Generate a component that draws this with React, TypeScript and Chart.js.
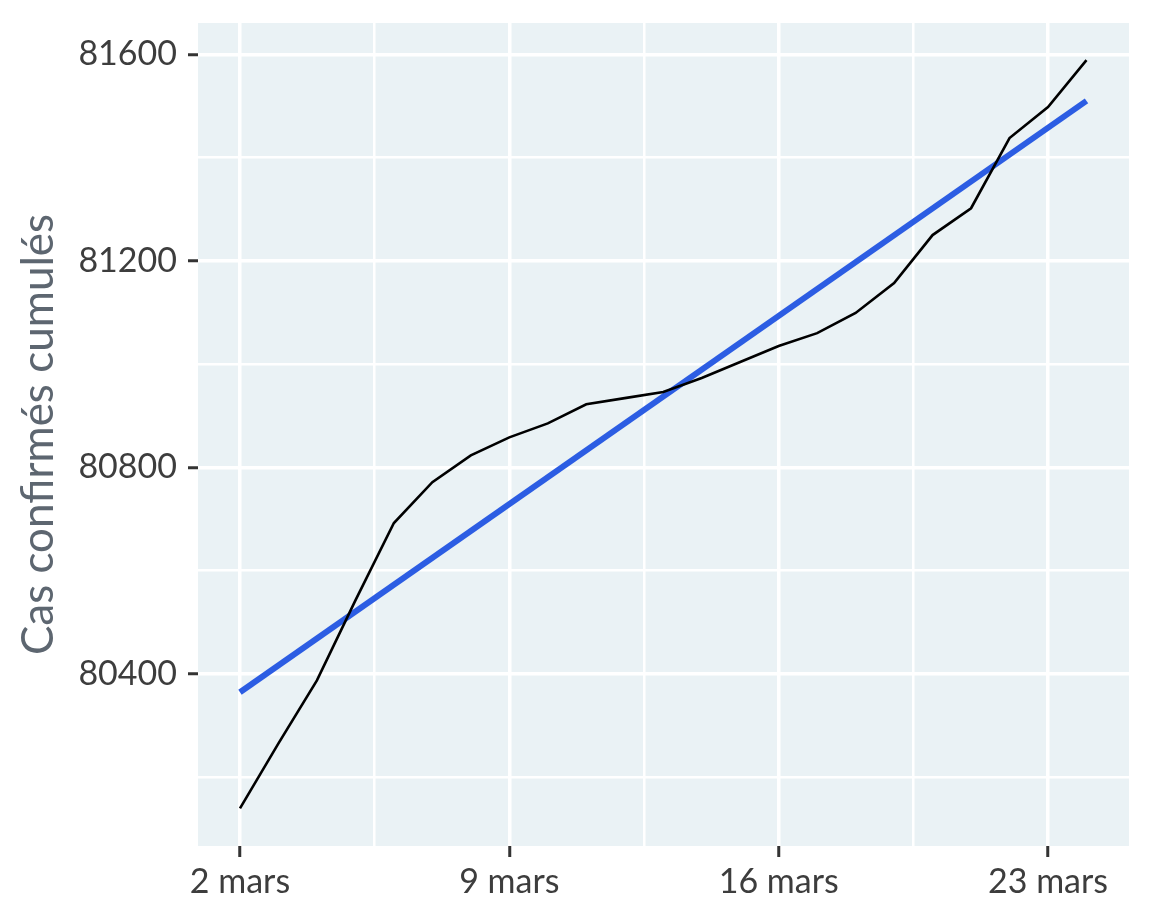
import { useEffect, useRef } from "react";
import { Chart, ChartOptions, Plugin, registerables } from "chart.js";

Chart.register(...registerables);

// Jours de mars (2 -> 24) et cas confirmés cumulés
const days = [2, 3, 4, 5, 6, 7, 8, 9, 10, 11, 12, 13, 14, 15, 16, 17, 18, 19, 20, 21, 22, 23, 24];
const cumulativeCases = [
  80139, 80265, 80387, 80542, 80692, 80771, 80823, 80858, 80885, 80922, 80934, 80946,
  80973, 81004, 81035, 81060, 81099, 81157, 81250, 81302, 81438, 81498, 81589,
];

// Droite de tendance (régression linéaire)
const trendDays = [2, 24];
const trendCases = [80364, 81510];

// Graduations
const xGridDays = [2, 5.5, 9, 12.5, 16, 19.5, 23];
const xLabelDays = [2, 9, 16, 23];
const yGridValues = [80200, 80400, 80600, 80800, 81000, 81200, 81400, 81600];
const yLabelValues = [80400, 80800, 81200, 81600];

const panelBackground: Plugin = {
  id: "panelBackground",
  beforeDraw(chart) {
    const { ctx, chartArea } = chart;
    ctx.save();
    ctx.fillStyle = "#EAF2F5";
    ctx.fillRect(chartArea.left, chartArea.top, chartArea.width, chartArea.height);
    ctx.restore();
  },
};

export default function App() {
  const chartRef = useRef<HTMLCanvasElement>(null);
  const chartInstance = useRef<Chart | null>(null);

  useEffect(() => {
    document.body.style.margin = "0";
    if (!chartRef.current) return;
    if (chartInstance.current) chartInstance.current.destroy();
    const ctx = chartRef.current.getContext("2d");
    if (!ctx) return;

    const options: ChartOptions<"line"> = {
      responsive: true,
      maintainAspectRatio: false,
      animation: false,
      layout: { padding: { top: 23, right: 23, bottom: 0, left: 8 } },
      plugins: {
        legend: { display: false },
        tooltip: { enabled: false },
      },
      scales: {
        x: {
          type: "linear",
          min: 0.909,
          max: 25.105,
          afterBuildTicks: (scale) => {
            scale.ticks = xGridDays.map((v) => ({ value: v }));
          },
          afterFit: (scale) => {
            scale.height = 76;
            scale.paddingLeft = 0;
            scale.paddingRight = 0;
          },
          border: { display: false },
          grid: {
            color: "#ffffff",
            lineWidth: (c) => (xLabelDays.includes(c.tick?.value) ? 3.5 : 2.5),
            tickColor: (c) => (xLabelDays.includes(c.tick?.value) ? "#333333" : "rgba(0,0,0,0)"),
            tickWidth: 3,
            tickLength: 11,
          },
          ticks: {
            autoSkip: false,
            maxRotation: 0,
            padding: 5,
            color: "#3d3d3d",
            font: { family: "Lato", size: 34 },
            callback: (value) => (xLabelDays.includes(Number(value)) ? `${value} mars` : ""),
          },
        },
        y: {
          type: "linear",
          min: 80066,
          max: 81661,
          afterBuildTicks: (scale) => {
            scale.ticks = yGridValues.map((v) => ({ value: v }));
          },
          afterFit: (scale) => {
            scale.width = 190;
            scale.paddingTop = 0;
            scale.paddingBottom = 0;
          },
          border: { display: false },
          grid: {
            color: "#ffffff",
            lineWidth: (c) => (yLabelValues.includes(c.tick?.value) ? 3.5 : 2.5),
            tickColor: (c) => (yLabelValues.includes(c.tick?.value) ? "#333333" : "rgba(0,0,0,0)"),
            tickWidth: 3,
            tickLength: 10,
          },
          ticks: {
            autoSkip: false,
            padding: 11,
            color: "#3d3d3d",
            font: { family: "Lato", size: 34 },
            callback: (value) => (yLabelValues.includes(Number(value)) ? String(value) : ""),
          },
          title: {
            display: true,
            text: "Cas confirmés cumulés",
            color: "#5d6670",
            font: { family: "Lato", size: 44 },
            padding: { top: 4, bottom: 4 },
          },
        },
      },
    };

    chartInstance.current = new Chart(ctx, {
      type: "line",
      data: {
        datasets: [
          {
            label: "Cas confirmés cumulés",
            data: days.map((d, i) => ({ x: d, y: cumulativeCases[i] })),
            borderColor: "#000000",
            borderWidth: 2.6,
            pointRadius: 0,
            tension: 0,
            fill: false,
          },
          {
            label: "Tendance linéaire",
            data: trendDays.map((d, i) => ({ x: d, y: trendCases[i] })),
            borderColor: "#2C5DE3",
            borderWidth: 6,
            pointRadius: 0,
            fill: false,
          },
        ],
      },
      options,
      plugins: [panelBackground],
    });

    return () => {
      if (chartInstance.current) {
        chartInstance.current.destroy();
        chartInstance.current = null;
      }
    };
  }, []);

  return (
    <div style={{ position: "fixed", left: 0, top: 0, width: 1152, height: 922 }}>
      <canvas ref={chartRef}></canvas>
    </div>
  );
}
